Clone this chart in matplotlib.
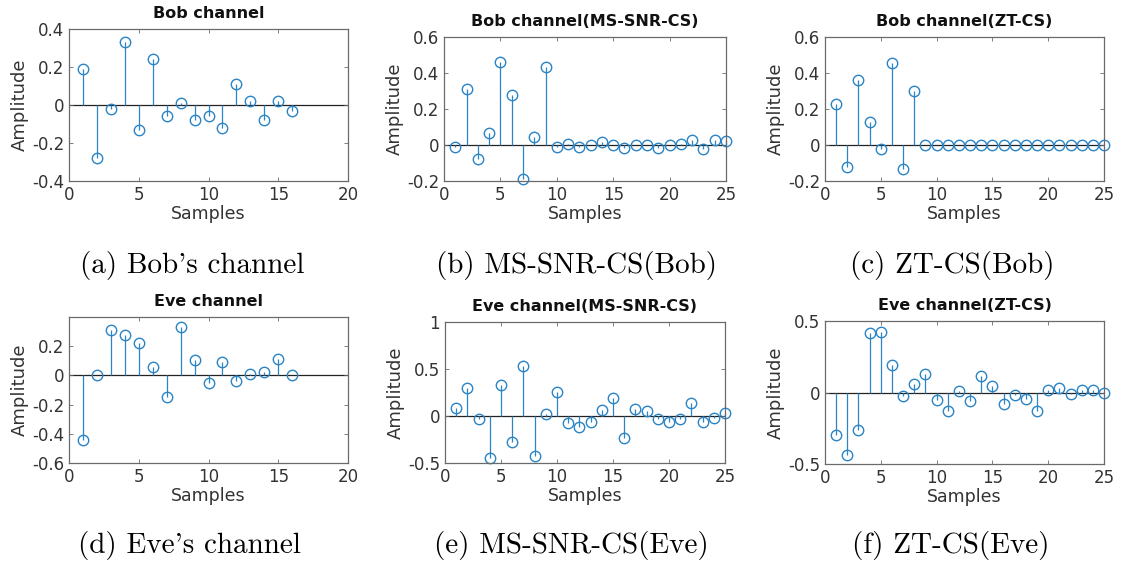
import numpy as np
import matplotlib.pyplot as plt

# stem values
bob = [0.19, -0.28, -0.02, 0.33, -0.13, 0.24, -0.06, 0.01, -0.08, -0.06,
       -0.12, 0.11, 0.02, -0.08, 0.02, -0.03]
bob_ms = [-0.01, 0.31, -0.08, 0.065, 0.46, 0.28, -0.19, 0.045, 0.435, -0.01,
          0.005, -0.01, 0.0, 0.018, 0.0, -0.018, 0.0, 0.0, -0.018, 0.0,
          0.008, 0.03, -0.02, 0.03, 0.024]
bob_zt = [0.23, -0.12, 0.36, 0.13, -0.02, 0.455, -0.135, 0.30] + [0.0] * 17
eve = [-0.445, 0.0, 0.31, 0.275, 0.22, 0.06, -0.145, 0.33, 0.105, -0.05,
       0.095, -0.04, 0.012, 0.022, 0.115, 0.0]
eve_ms = [0.088, 0.30, -0.035, -0.45, 0.335, -0.275, 0.53, -0.425, 0.025, 0.258,
          -0.07, -0.117, -0.06, 0.064, 0.187, -0.23, 0.078, 0.053, -0.035, -0.06,
          -0.035, 0.134, -0.06, -0.025, 0.028]
eve_zt = [-0.298, -0.434, -0.263, 0.417, 0.424, 0.191, -0.026, 0.056, 0.126, -0.054,
          -0.128, 0.009, -0.061, 0.117, 0.047, -0.079, -0.016, -0.044, -0.128, 0.016,
          0.028, -0.012, 0.016, 0.016, 0.0]

titles = ["Bob channel", "Bob channel(MS-SNR-CS)", "Bob channel(ZT-CS)",
          "Eve channel", "Eve channel(MS-SNR-CS)", "Eve channel(ZT-CS)"]
captions = ["(a) Bob's channel", "(b) MS-SNR-CS(Bob)", "(c) ZT-CS(Bob)",
            "(d) Eve's channel", "(e) MS-SNR-CS(Eve)", "(f) ZT-CS(Eve)"]
series = [bob, bob_ms, bob_zt, eve, eve_ms, eve_zt]
xmax = [20, 25, 25, 20, 25, 25]
yticks = [[-0.4, -0.2, 0, 0.2, 0.4], [-0.2, 0, 0.2, 0.4, 0.6], [-0.2, 0, 0.2, 0.4, 0.6],
          [-0.6, -0.4, -0.2, 0, 0.2], [-0.5, 0, 0.5, 1], [-0.5, 0, 0.5]]
ylims = [(-0.4, 0.4), (-0.2, 0.6), (-0.2, 0.6), (-0.6, 0.4), (-0.5, 1), (-0.5, 0.5)]

W, H = 1126, 572
fig = plt.figure(figsize=(W / 100, H / 100), dpi=100)


def rect(x0, x1, y0, y1):
    return [x0 / W, 1 - y1 / H, (x1 - x0) / W, (y1 - y0) / H]


# axes boxes in pixels (left, right, top, bottom)
boxes = [(69, 348, 29, 181), (444, 726, 37, 181), (825, 1104, 37, 181),
         (69, 348, 317, 463), (445, 725, 322, 463), (825, 1104, 321, 464)]
cap_pos = [(192, 265), (577, 265), (952, 265), (190, 545), (571, 545), (951, 545)]

blue = "#2a84c6"
gray = "#6a6a6a"

for i in range(6):
    ax = fig.add_axes(rect(*boxes[i]))
    y = np.array(series[i])
    x = np.arange(1, len(y) + 1)
    ml, sl, bl = ax.stem(x, y, linefmt="-", markerfmt="o", basefmt=" ")
    sl.set_color(blue)
    sl.set_linewidth(0.9)
    sl.set_clip_on(False)
    ml.set_markerfacecolor("none")
    ml.set_markeredgecolor(blue)
    ml.set_markersize(7.5)
    ml.set_markeredgewidth(1.0)
    ml.set_clip_on(False)
    ax.axhline(0, color="#222222", linewidth=0.9, zorder=1)

    ax.set_xlim(0, xmax[i])
    ax.set_ylim(*ylims[i])
    xt = list(range(0, xmax[i] + 1, 5))
    ax.set_xticks(xt)
    ax.set_xticklabels([str(v) for v in xt])
    ax.set_yticks(yticks[i])
    ax.set_yticklabels([f"{v:g}" for v in yticks[i]])
    ax.tick_params(direction="in", top=True, right=True, length=3, width=0.6,
                   colors=gray, labelcolor="#333333", labelsize=12)
    for s in ax.spines.values():
        s.set_color(gray)
        s.set_linewidth(0.9)
    ax.set_title(titles[i], fontsize=11.5, fontweight="bold", color="#111111", pad=8)
    ax.set_xlabel("Samples", fontsize=12.5, color="#333333", labelpad=1)
    ax.set_ylabel("Amplitude", fontsize=13, color="#333333", labelpad=2)

    cx, cy = cap_pos[i]
    fig.text(cx / W, 1 - cy / H, captions[i], ha="center", va="center",
             family=["cmr10", "DejaVu Serif"], fontsize=21)

plt.savefig("out.png", dpi=100)
